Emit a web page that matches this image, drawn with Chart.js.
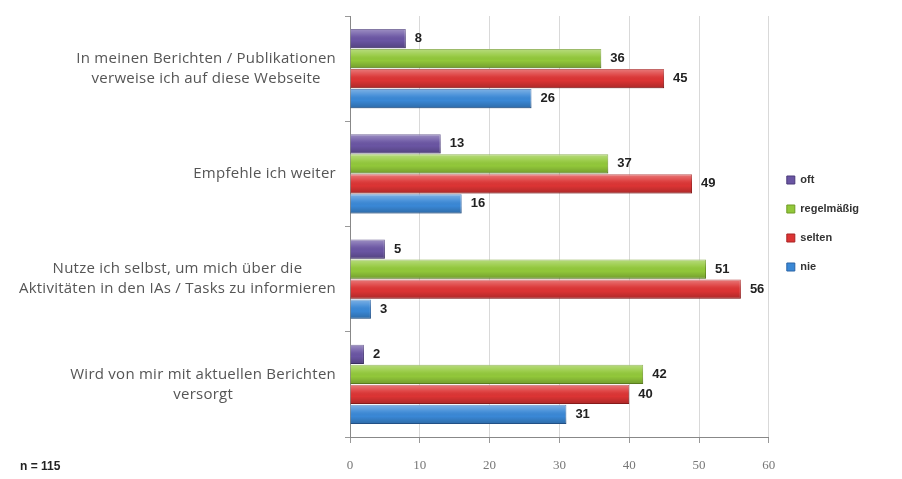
<!DOCTYPE html>
<html>
<head>
<meta charset="UTF-8">
<title>Nutzung der Webseite</title>
<script src="https://cdn.jsdelivr.net/npm/chart.js"></script>
<style>
  html, body { margin: 0; padding: 0; background: #fff; }
  #wrap { position: relative; width: 902px; height: 479px; }
  #note { position: absolute; left: 20px; top: 459px; font: bold 12px "Liberation Sans", Arial, sans-serif; color: #222; }
</style>
</head>
<body>
<div id="wrap">
  <canvas id="chart" width="902" height="479"></canvas>
  <div id="note">n = 115</div>
</div>
<script>
// categories, top to bottom
const categories = [
  ['In meinen Berichten / Publikationen', 'verweise ich auf diese Webseite'],
  ['Empfehle ich weiter'],
  ['Nutze ich selbst, um mich über die', 'Aktivitäten in den IAs / Tasks zu informieren'],
  ['Wird von mir mit aktuellen Berichten', 'versorgt']
];
const seriesNames = ['oft', 'regelmäßig', 'selten', 'nie'];
const oft = [8, 13, 5, 2];
const regelmaessig = [36, 37, 51, 42];
const selten = [45, 49, 56, 40];
const nie = [26, 16, 3, 31];
const xTicks = [0, 10, 20, 30, 40, 50, 60];

const colors = ['#6a55a3', '#92c83a', '#dc3434', '#3a88d6'];
const borders = ['#4a3a7a', '#6f9a25', '#a82222', '#2a64a6'];

// a bit of shine on the bars, then the value labels at the bar ends
const valueLabels = {
  id: 'valueLabels',
  afterDatasetsDraw(chart) {
    const ctx = chart.ctx;
    ctx.save();
    chart.data.datasets.forEach((ds, i) => {
      chart.getDatasetMeta(i).data.forEach(bar => {
        const top = bar.y - bar.height / 2;
        const g = ctx.createLinearGradient(0, top, 0, top + bar.height);
        g.addColorStop(0, 'rgba(255,255,255,0.35)');
        g.addColorStop(0.35, 'rgba(255,255,255,0.08)');
        g.addColorStop(0.6, 'rgba(0,0,0,0)');
        g.addColorStop(1, 'rgba(0,0,0,0.22)');
        ctx.fillStyle = g;
        ctx.fillRect(bar.base, top, bar.x - bar.base, bar.height);
      });
    });
    ctx.font = 'bold 13px "Liberation Sans", Arial, sans-serif';
    ctx.fillStyle = '#222';
    ctx.textBaseline = 'middle';
    ctx.textAlign = 'left';
    chart.data.datasets.forEach((ds, i) => {
      chart.getDatasetMeta(i).data.forEach((bar, j) => {
        ctx.fillText(ds.data[j], bar.x + 9, bar.y);
      });
    });
    ctx.restore();
  }
};

// category labels: lines centred to each other, block right-aligned to the axis
const catLabels = {
  id: 'catLabels',
  afterDraw(chart) {
    const ctx = chart.ctx;
    const y = chart.scales.y;
    ctx.save();
    ctx.font = '15px "Open Sans", sans-serif';
    ctx.letterSpacing = '0.25px';
    ctx.fillStyle = '#555';
    ctx.textAlign = 'center';
    ctx.textBaseline = 'middle';
    const right = y.right - 14;
    categories.forEach((lines, i) => {
      const w = Math.max(...lines.map(l => ctx.measureText(l).width));
      const cx = right - w / 2;
      const cy = y.getPixelForValue(i);
      const lh = 20;
      lines.forEach((l, k) => {
        ctx.fillText(l, cx, cy + (k - (lines.length - 1) / 2) * lh);
      });
    });
    ctx.restore();
  }
};

// nudge the legend up a little
const legendShift = {
  id: 'legendShift',
  afterLayout(chart) {
    chart.legend.top -= 24;
    chart.legend.bottom -= 24;
  }
};

new Chart(document.getElementById('chart'), {
  type: 'bar',
  data: {
    labels: categories.map(c => c.join(' ')),
    datasets: [oft, regelmaessig, selten, nie].map((d, i) => ({
      label: seriesNames[i],
      data: d,
      backgroundColor: colors[i],
      borderColor: borders[i],
      borderWidth: 1,
      categoryPercentage: 0.76,
      barPercentage: 0.96
    }))
  },
  options: {
    indexAxis: 'y',
    responsive: false,
    animation: false,
    layout: { padding: { top: 16, left: 0, right: 33, bottom: 0 } },
    plugins: {
      title: { display: false },
      tooltip: { enabled: false },
      legend: {
        position: 'right',
        labels: {
          boxWidth: 8,
          boxHeight: 8,
          padding: 18,
          color: '#333',
          font: { family: '"Liberation Sans", Arial, sans-serif', size: 11, weight: 'bold' }
        }
      }
    },
    scales: {
      x: {
        min: 0,
        max: 60,
        afterBuildTicks: s => { s.ticks = xTicks.map(v => ({ value: v })); },
        afterFit: s => { s.height = 42; },
        grid: { color: '#d9d9d9', tickLength: 6, tickColor: '#999' },
        border: { color: '#888' },
        ticks: { color: '#777', padding: 15, font: { family: '"Liberation Serif", serif', size: 13 } }
      },
      y: {
        afterFit: s => { s.width = 350; },
        grid: { offset: true, drawOnChartArea: false, tickLength: 5, tickColor: '#999' },
        border: { color: '#888' },
        ticks: { display: false }
      }
    }
  },
  plugins: [valueLabels, catLabels, legendShift]
});
</script>
</body>
</html>
